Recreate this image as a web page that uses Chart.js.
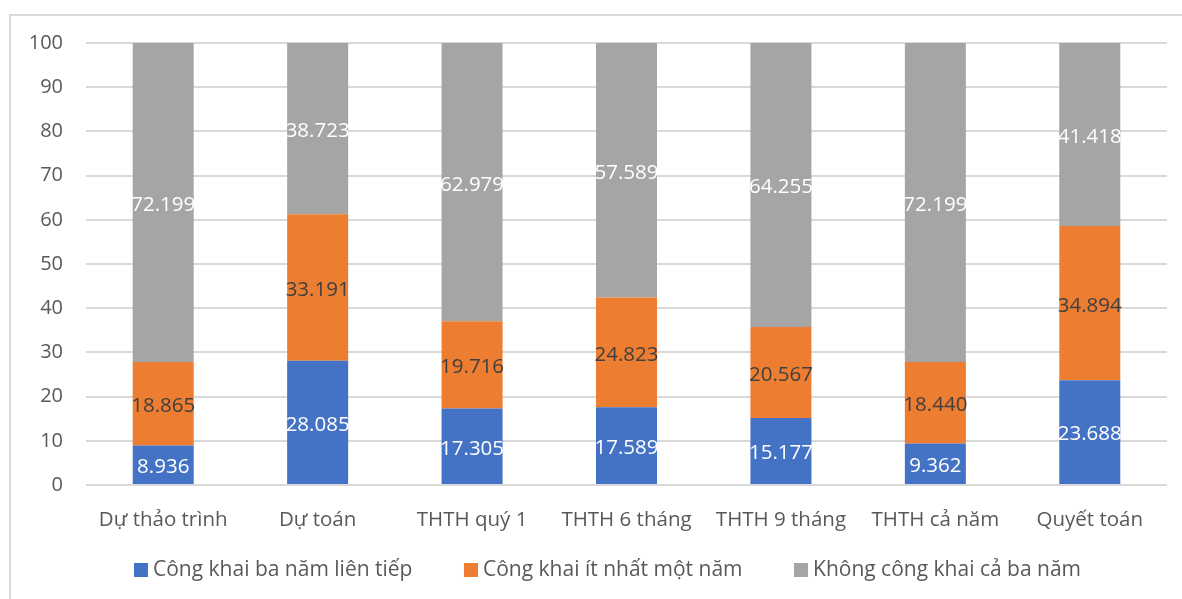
<!DOCTYPE html>
<html>
<head>
<meta charset="utf-8">
<script src="https://cdn.jsdelivr.net/npm/chart.js@4.4.1/dist/chart.umd.min.js"></script>
<style>
  html, body { margin: 0; padding: 0; background: #ffffff; }
  #stage { position: relative; width: 1182px; height: 599px; overflow: hidden; }
  #frame { position: absolute; left: 9px; top: 14px; width: 1300px; height: 700px;
           border: 2px solid #d9d9d9; box-sizing: border-box; }
  #chart { position: absolute; left: 0; top: 0; }
</style>
</head>
<body>
<div id="stage">
  <div id="frame"></div>
  <canvas id="chart" width="1182" height="599"></canvas>
</div>
<script>
// Stages of the budget document cycle
const categories = ['Dự thảo trình', 'Dự toán', 'THTH quý 1', 'THTH 6 tháng', 'THTH 9 tháng', 'THTH cả năm', 'Quyết toán'];

// Share of units (%) per disclosure status
const seriesNames = ['Công khai ba năm liên tiếp', 'Công khai ít nhất một năm', 'Không công khai cả ba năm'];
const threeYears   = [8.936, 28.085, 17.305, 17.589, 15.177, 9.362, 23.688];
const atLeastOne   = [18.865, 33.191, 19.716, 24.823, 20.567, 18.440, 34.894];
const noDisclosure = [72.199, 38.723, 62.979, 57.589, 64.255, 72.199, 41.418];

const yTicks = [0, 10, 20, 30, 40, 50, 60, 70, 80, 90, 100];

const fontFamily = '"Open Sans", "DejaVu Sans", sans-serif';
const textGray = '#595959';
const barColors = ['#4472C4', '#ED7D31', '#A5A5A5'];
const labelColors = ['#ffffff', '#404040', '#ffffff'];

// Writes each segment's value at the middle of its bar segment
const segmentLabels = {
  id: 'segmentLabels',
  afterDatasetsDraw(chart) {
    const ctx = chart.ctx;
    ctx.save();
    ctx.font = '20.5px ' + fontFamily;
    ctx.textAlign = 'center';
    ctx.textBaseline = 'middle';
    chart.data.datasets.forEach((ds, i) => {
      const meta = chart.getDatasetMeta(i);
      ctx.fillStyle = labelColors[i];
      meta.data.forEach((bar, j) => {
        const p = bar.getProps(['x', 'y', 'base'], true);
        ctx.fillText(ds.data[j].toFixed(3), p.x, (p.y + p.base) / 2 + 2.5);
      });
    });
    ctx.restore();
  }
};

// Single-row legend under the axis: square swatch, short gap, series name
const bottomLegend = {
  id: 'bottomLegend',
  afterDraw(chart) {
    const ctx = chart.ctx;
    const box = 14, gap = 5, spacing = 51.5, centerX = 607.5, baseline = 576;
    ctx.save();
    ctx.font = '21px ' + fontFamily;
    ctx.textBaseline = 'alphabetic';
    ctx.textAlign = 'left';
    const items = chart.data.datasets.map(ds => ({
      text: ds.label, color: ds.backgroundColor, w: ctx.measureText(ds.label).width
    }));
    const total = items.reduce((s, it) => s + box + gap + it.w, 0) + spacing * (items.length - 1);
    let x = centerX - total / 2;
    items.forEach(it => {
      ctx.fillStyle = it.color;
      ctx.fillRect(x, baseline - 13, box, box);
      ctx.fillStyle = textGray;
      ctx.fillText(it.text, x + box + gap, baseline);
      x += box + gap + it.w + spacing;
    });
    ctx.restore();
  }
};

new Chart(document.getElementById('chart'), {
  type: 'bar',
  data: {
    labels: categories,
    datasets: [threeYears, atLeastOne, noDisclosure].map((values, i) => ({
      label: seriesNames[i],
      data: values,
      backgroundColor: barColors[i],
      borderWidth: 0,
      categoryPercentage: 1,
      barPercentage: 0.395
    }))
  },
  options: {
    responsive: false,
    animation: false,
    devicePixelRatio: 1,
    layout: { padding: { left: 0, right: 15, top: 43, bottom: 64 } },
    scales: {
      x: {
        stacked: true,
        grid: { display: false },
        border: { display: false },
        ticks: { color: textGray, font: { family: fontFamily, size: 20.5 }, padding: 15, maxRotation: 0, autoSkip: false },
        afterFit(scale) { scale.height = 50; }
      },
      y: {
        stacked: true,
        min: 0,
        max: 100,
        afterBuildTicks(scale) { scale.ticks = yTicks.map(v => ({ value: v })); },
        grid: { color: '#d9d9d9', lineWidth: 2, drawTicks: false },
        border: { display: false },
        ticks: { color: textGray, font: { family: fontFamily, size: 20 }, padding: 23 },
        afterFit(scale) { scale.width = 86; }
      }
    },
    plugins: {
      legend: { display: false },
      tooltip: { enabled: false }
    }
  },
  plugins: [segmentLabels, bottomLegend]
});
</script>
</body>
</html>
